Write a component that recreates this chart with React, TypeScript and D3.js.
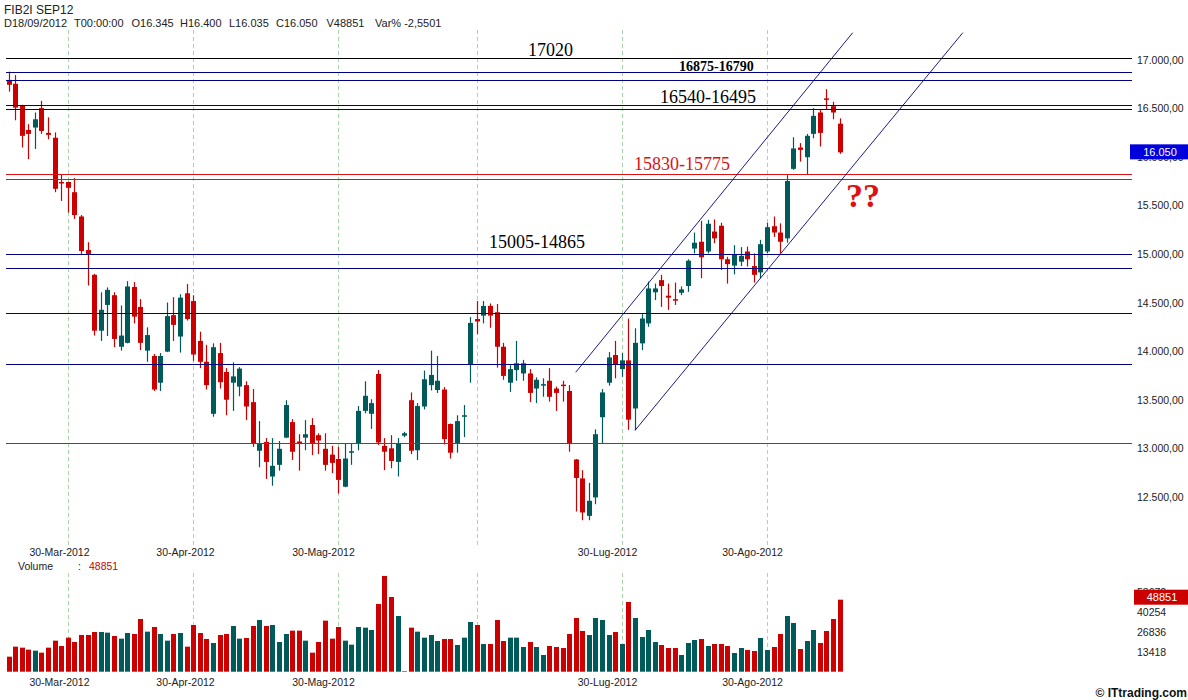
import { useEffect, useRef } from 'react';
import * as d3 from 'd3';

// FIB2I SEP12 daily candles, 20-Mar-2012 .. 18-Sep-2012 (index = trading day)
const opens = [
  16795, 16755, 16530, 16280, 16305, 16505, 16250, 16200, 15745, 15745,
  15640, 15390, 15045, 14790, 14215, 14480, 14580, 14050, 14090, 14665,
  14460, 14010, 13955, 13680, 14000, 14375, 14155, 14600, 14520, 14110,
  13895, 13360, 13985, 13790, 13680, 13640, 13655, 13480, 12980, 13070,
  12715, 12835, 13115, 13275, 13075, 13115, 13245, 13140, 13000, 12940,
  12895, 12610, 12970, 13060, 13390, 13360, 13770, 13030, 13005, 12865,
  13135, 13500, 12985, 13435, 13655, 13605, 13610, 13255, 13060, 13340,
  13870, 14335, 14370, 14470, 14405, 14050, 13680, 13810, 13775, 13775,
  13620, 13660, 13700, 13620, 13660, 13595, 12890, 12695, 12310, 12500,
  13325, 13680, 13965, 13820, 13910, 13415, 14085, 14290, 14610, 14735,
  14575, 14540, 14605, 14675, 15060, 15130, 15030, 15235, 15295, 14950,
  14885, 14925, 15030, 14880, 14815, 15030, 15290, 15225, 15165, 15880,
  16100, 16000, 16240, 16460, 16605, 16525, 16345,
];
const highs = [
  16880, 16845, 16540, 16340, 16460, 16580, 16410, 16255, 15825, 15750,
  15785, 15405, 15125, 14800, 14610, 14660, 14610, 14475, 14725, 14715,
  14540, 14250, 13975, 13985, 14505, 14560, 14590, 14695, 14580, 14205,
  14070, 14085, 14090, 13830, 13890, 13840, 13695, 13615, 13285, 13110,
  13110, 13080, 13500, 13305, 13150, 13295, 13315, 13160, 13160, 13030,
  13020, 13055, 13055, 13440, 13695, 13510, 13810, 13110, 13140, 13110,
  13175, 13580, 13470, 13805, 14010, 13955, 13635, 13260, 13345, 13450,
  14355, 14520, 14520, 14495, 14490, 14090, 13860, 14110, 13915, 13820,
  13735, 13725, 13830, 13640, 13700, 13655, 12895, 12780, 12650, 13200,
  13615, 13995, 14110, 13985, 14340, 14240, 14385, 14720, 14700, 14790,
  14700, 14710, 14670, 14950, 15225, 15345, 15355, 15360, 15325, 14975,
  15095, 15075, 15080, 15010, 15150, 15325, 15390, 15320, 15815, 16205,
  16145, 16240, 16505, 16485, 16700, 16570, 16400,
];
const lows = [
  16675, 16380, 16100, 15980, 16085, 16240, 16185, 15640, 15550, 15430,
  15365, 15005, 14680, 14165, 14110, 14160, 14045, 14010, 14085, 14290,
  14015, 13895, 13595, 13595, 13995, 14110, 13990, 14320, 13905, 13830,
  13610, 13330, 13620, 13345, 13390, 13540, 13295, 13020, 12810, 12690,
  12620, 12775, 13110, 12885, 12775, 12985, 12935, 12945, 12775, 12750,
  12540, 12605, 12835, 12985, 13365, 13205, 13040, 12780, 12800, 12715,
  13120, 12945, 12885, 13405, 13600, 13575, 13045, 12900, 12960, 13120,
  13680, 14180, 14290, 14245, 13835, 13710, 13585, 13700, 13700, 13480,
  13470, 13535, 13485, 13390, 13485, 12970, 12355, 12265, 12265, 12430,
  13055, 13650, 13725, 13740, 13195, 13190, 14015, 14255, 14530, 14460,
  14430, 14480, 14580, 14615, 15010, 14755, 15010, 15115, 14840, 14700,
  14795, 14880, 14875, 14710, 14755, 15010, 15180, 15010, 15120, 15870,
  15955, 15825, 16195, 16110, 16490, 16390, 16035,
];
const closes = [
  16745, 16510, 16220, 16240, 16390, 16270, 16230, 15675, 15740, 15685,
  15405, 15035, 15005, 14215, 14430, 14635, 14130, 14165, 14670, 14360,
  14090, 14170, 13610, 13955, 14365, 14275, 14555, 14335, 13970, 13895,
  13655, 14045, 13685, 13505, 13745, 13825, 13435, 13055, 13055, 12865,
  12825, 13000, 13450, 12970, 13070, 13150, 13060, 13085, 12835, 12855,
  12680, 12900, 12975, 13390, 13545, 13470, 13065, 12970, 12875, 13055,
  13160, 12980, 13440, 13715, 13760, 13700, 13100, 12960, 13285, 13345,
  14295, 14310, 14470, 14370, 14050, 13750, 13820, 13880, 13880, 13575,
  13710, 13665, 13535, 13575, 13655, 13055, 12700, 12345, 12465, 13150,
  13580, 13940, 13870, 13910, 13300, 14090, 14340, 14650, 14650, 14675,
  14555, 14525, 14640, 14935, 15120, 14970, 15315, 15165, 14950, 14900,
  15000, 14985, 14950, 14790, 15105, 15280, 15225, 15130, 15755, 16090,
  16075, 16220, 16425, 16250, 16590, 16460, 16050,
];
const volumes = [
  10200, 16990, 16310, 14950, 14270, 12920, 16310, 21060, 17440, 23100,
  20150, 24900, 24900, 26940, 26940, 26490, 24230, 22420, 26260, 25580,
  35760, 27170, 30330, 25580, 21060, 25580, 26260, 16990, 31690, 26260,
  22190, 19480, 24900, 25580, 31010, 22420, 22870, 31010, 35080, 31010,
  31690, 20150, 25580, 27850, 27850, 21060, 12920, 20150, 34630, 22420,
  30330, 21060, 18350, 30330, 29880, 28300, 45940, 64940, 50690, 37800,
  400, 29880, 27170, 23100, 24900, 20830, 22190, 22190, 18120, 23100,
  33730, 31690, 18800, 18800, 35080, 20830, 23100, 23100, 16760, 20150,
  16760, 11330, 17440, 16760, 16080, 25580, 36440, 27620, 24900, 36440,
  35080, 24900, 26940, 18800, 47300, 36440, 23550, 28300, 20150, 18120,
  16080, 16080, 11330, 19480, 21510, 22190, 17440, 18800, 18800, 17440,
  12690, 16080, 14730, 14050, 22870, 14730, 16760, 25580, 37800, 33050,
  15400, 20830, 28300, 19480, 27620, 35760, 48851,
];

const monthStarts = [9, 28, 50, 71, 93, 115];
const dateLabelIdx = [8, 27, 48, 91, 113];
const dateLabels = ['30-Mar-2012', '30-Apr-2012', '30-Mag-2012', '30-Lug-2012', '30-Ago-2012'];

const priceTicks = [12500, 13000, 13500, 14000, 14500, 15000, 15500, 16000, 16500, 17000];
const volumeTicks = [13418, 26836, 40254, 53672];

const blackLevels = [17020];
const blueLevels = [16875, 16790, 16540, 16495, 15005, 14865, 14400, 13870];
const redLevels = [15830, 15775, 13060];

const channelUpper: [number, number][] = [[86, 13787], [128, 17281]];
const channelLower: [number, number][] = [[95, 13190], [144.7, 17281]];

const RED = '#cc0000';
const TEAL = '#005a5a';
const NAVY = '#000080';
const SANS = 'Liberation Sans, Arial, sans-serif';
const SERIF = 'Liberation Serif, Times New Roman, serif';

export default function App() {
  const svgRef = useRef<SVGSVGElement>(null);

  useEffect(() => {
    const W = 1188;
    const H = 700;
    const plotLeft = 6;
    const plotRight = 1132;

    const svg = d3.select(svgRef.current).attr('width', W).attr('height', H);
    svg.selectAll('*').remove();

    const x = d3.scaleLinear().domain([0, 126]).range([8.5, 839.5]);
    const y = d3.scaleLinear().domain([12000, 17000]).range([546, 60]);
    const vy = d3.scaleLinear().domain([0, 67090]).range([671.7, 572.8]);
    const itFormat = d3
      .formatLocale({ decimal: ',', thousands: '.', grouping: [3], currency: ['', ''] })
      .format(',.2f');

    const idx = d3.range(opens.length);
    const cx = (i: number) => Math.round(x(i));

    // month gridlines
    const grid = svg.append('g').attr('stroke', '#a9d6a9').attr('stroke-dasharray', '4,3');
    grid
      .selectAll('.gp')
      .data(monthStarts)
      .join('line')
      .attr('x1', (d) => cx(d) + 0.5)
      .attr('x2', (d) => cx(d) + 0.5)
      .attr('y1', 30)
      .attr('y2', 547);
    grid
      .selectAll('.gv')
      .data(monthStarts)
      .join('line')
      .attr('class', 'gv')
      .attr('x1', (d) => cx(d) + 0.5)
      .attr('x2', (d) => cx(d) + 0.5)
      .attr('y1', 573)
      .attr('y2', 672);

    // candles
    const candles = svg.append('g');
    candles
      .selectAll('line')
      .data(idx)
      .join('line')
      .attr('x1', (i) => cx(i) + 0.5)
      .attr('x2', (i) => cx(i) + 0.5)
      .attr('y1', (i) => y(highs[i]))
      .attr('y2', (i) => y(lows[i]))
      .attr('stroke', (i) => (closes[i] >= opens[i] ? TEAL : RED))
      .attr('stroke-width', 1.2);
    candles
      .selectAll('rect')
      .data(idx)
      .join('rect')
      .attr('x', (i) => cx(i) - 2)
      .attr('width', 5)
      .attr('y', (i) => y(Math.max(opens[i], closes[i])))
      .attr('height', (i) => Math.max(1.5, Math.abs(y(opens[i]) - y(closes[i]))))
      .attr('fill', (i) => (closes[i] >= opens[i] ? TEAL : RED));

    // volume
    svg
      .append('g')
      .selectAll('rect')
      .data(idx)
      .join('rect')
      .attr('x', (i) => cx(i) - 2)
      .attr('width', 5)
      .attr('y', (i) => vy(volumes[i]))
      .attr('height', (i) => vy(0) - vy(volumes[i]))
      .attr('fill', (i) => (closes[i] >= opens[i] ? TEAL : RED));

    // horizontal levels
    const levels = svg.append('g');
    const drawLevels = (vals: number[], color: string) =>
      levels
        .append('g')
        .selectAll('line')
        .data(vals)
        .join('line')
        .attr('x1', plotLeft)
        .attr('x2', plotRight)
        .attr('y1', (d) => Math.round(y(d)) + 0.5)
        .attr('y2', (d) => Math.round(y(d)) + 0.5)
        .attr('stroke', color)
        .attr('stroke-width', 1.2);
    drawLevels(blackLevels, '#000000');
    drawLevels(blueLevels, NAVY);
    drawLevels(redLevels, '#dd1111');

    // channel
    const line = d3
      .line<[number, number]>()
      .x((d) => x(d[0]))
      .y((d) => y(d[1]));
    [channelUpper, channelLower].forEach((c) => {
      svg
        .append('path')
        .attr('d', line(c))
        .attr('fill', 'none')
        .attr('stroke', NAVY)
        .attr('stroke-width', 0.9);
    });

    // annotations
    const note = (t: string, px: number, py: number, size: number, color: string, weight = 'normal') =>
      svg
        .append('text')
        .attr('x', px)
        .attr('y', py)
        .attr('font-family', SERIF)
        .attr('font-size', size)
        .attr('font-weight', weight)
        .attr('fill', color)
        .text(t);
    note('17020', 528, y(17020) - 2.5, 18, '#000');
    note('16875-16790', 679, y(16875) - 1.5, 14, '#000', 'bold');
    note('16540-16495', 660, y(16540) - 2, 18, '#000');
    note('15830-15775', 634, y(15830) - 4, 18, '#e01010');
    note('15005-14865', 489, y(15005) - 6, 18, '#000');
    note('??', 846, 207, 34, '#e01010', 'bold');

    // right axis labels
    svg
      .append('g')
      .selectAll('text')
      .data(priceTicks)
      .join('text')
      .attr('x', 1137)
      .attr('y', (d) => y(d))
      .attr('dy', '0.35em')
      .attr('font-family', SANS)
      .attr('font-size', 10.5)
      .attr('fill', '#222')
      .text((d) => itFormat(d));
    svg
      .append('g')
      .selectAll('text')
      .data(volumeTicks)
      .join('text')
      .attr('x', 1137)
      .attr('y', (d) => vy(d))
      .attr('dy', '0.35em')
      .attr('font-family', SANS)
      .attr('font-size', 10.5)
      .attr('fill', '#222')
      .text((d) => String(d));

    // last value boxes
    const lastClose = closes[closes.length - 1];
    const lastVol = volumes[volumes.length - 1];
    svg
      .append('rect')
      .attr('x', 1130)
      .attr('y', y(lastClose) - 8)
      .attr('width', 58)
      .attr('height', 15)
      .attr('fill', '#0000dd');
    svg
      .append('text')
      .attr('x', 1160)
      .attr('y', y(lastClose) - 0.5)
      .attr('dy', '0.35em')
      .attr('text-anchor', 'middle')
      .attr('font-family', SANS)
      .attr('font-size', 11)
      .attr('fill', '#fff')
      .text(d3.format('.3f')(lastClose / 1000));
    svg
      .append('rect')
      .attr('x', 1134)
      .attr('y', vy(lastVol) - 10)
      .attr('width', 54)
      .attr('height', 15)
      .attr('fill', RED);
    svg
      .append('text')
      .attr('x', 1162)
      .attr('y', vy(lastVol) - 2.5)
      .attr('dy', '0.35em')
      .attr('text-anchor', 'middle')
      .attr('font-family', SANS)
      .attr('font-size', 11)
      .attr('fill', '#fff')
      .text(String(lastVol));

    // date labels (two rows)
    [556, 686].forEach((row) => {
      svg
        .append('g')
        .selectAll('text')
        .data(dateLabelIdx)
        .join('text')
        .attr('x', (d, k) => cx(d) - 1.5)
        .attr('y', row)
        .attr('text-anchor', 'middle')
        .attr('font-family', SANS)
        .attr('font-size', 10.5)
        .attr('fill', '#222')
        .text((d, k) => dateLabels[k]);
    });

    // header
    const hdr = (t: string, px: number, py: number, size: number, color = '#222') =>
      svg
        .append('text')
        .attr('x', px)
        .attr('y', py)
        .attr('font-family', SANS)
        .attr('font-size', size)
        .attr('fill', color)
        .text(t);
    hdr('FIB2I SEP12', 4, 13.5, 12);
    const fields = [
      ['D18/09/2012', 4],
      ['T00:00:00', 74],
      ['O16.345', 131.5],
      ['H16.400', 180],
      ['L16.035', 229],
      ['C16.050', 276],
      ['V48851', 326.5],
      ['Var% -2,5501', 375],
    ] as [string, number][];
    fields.forEach(([t, px]) => hdr(t, px, 27.3, 11));

    hdr('Volume', 18, 570, 10.5);
    hdr(':', 78, 570, 10.5);
    hdr(String(lastVol), 89, 570, 10.5, RED);

    svg
      .append('text')
      .attr('x', 1187)
      .attr('y', 697)
      .attr('text-anchor', 'end')
      .attr('font-family', SANS)
      .attr('font-size', 12)
      .attr('font-weight', 'bold')
      .attr('fill', '#111')
      .text('© ITtrading.com');
  }, []);

  return (
    <div>
      <svg ref={svgRef} style={{ position: 'absolute', left: 0, top: 0, display: 'block' }} />
    </div>
  );
}
